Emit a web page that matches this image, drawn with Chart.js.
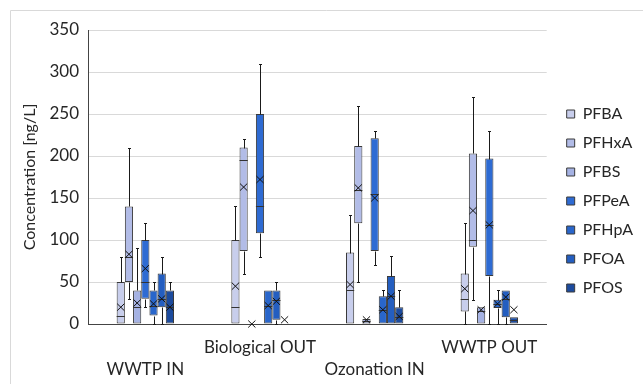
<!DOCTYPE html>
<html>
<head>
<meta charset="utf-8">
<script src="https://cdn.jsdelivr.net/npm/chart.js@4.4.1/dist/chart.umd.min.js"></script>
<style>
  body { margin: 0; background: #fff; }
</style>
</head>
<body>
<canvas id="mycanvas" width="643" height="384"></canvas>
<script>
// sampling points
var categories = ['WWTP IN', 'Biological OUT', 'Ozonation IN', 'WWTP OUT'];
var yTicks = [0, 50, 100, 150, 200, 250, 300, 350];

// per compound, per sampling point: [min, q1, median, q3, max, mean] in ng/L
var PFBA  = [[0, 0, 10, 50, 80, 20], [0, 0, 20, 100, 140, 45], [0, 0, 40, 85, 130, 47], [0, 15, 30, 60, 120, 42]];
var PFHxA = [[30, 50, 80, 140, 210, 83], [60, 87, 195, 210, 220, 163], [50, 120, 160, 212, 260, 162], [29, 92, 100, 203, 270, 135]];
var PFBS  = [[0, 0, 20, 40, 90, 25], [0, 0, 0, 0, 0, 0], [0, 0, 3, 6, 6, 5], [0, 0, 15, 20, 20, 17]];
var PFPeA = [[20, 30, 50, 100, 120, 66], [80, 108, 140, 250, 310, 172], [70, 87, 155, 221, 230, 150], [0, 57, 118, 197, 230, 118]];
var PFHpA = [[0, 10, 22, 40, 50, 24], [0, 0, 22, 40, 40, 22], [0, 0, 17, 33, 40, 17], [0, 19, 24, 29, 40, 24]];
var PFOA  = [[0, 20, 30, 60, 80, 30], [0, 5, 28, 40, 50, 27], [0, 0, 33, 57, 81, 33], [0, 8, 30, 40, 40, 32]];
var PFOS  = [[0, 0, 20, 40, 50, 20], [0, 0, 0, 0, 0, 5], [0, 0, 8, 20, 40, 9], [0, 0, 5, 8, 8, 17]];

var seriesNames = ['PFBA', 'PFHxA', 'PFBS', 'PFPeA', 'PFHpA', 'PFOA', 'PFOS'];
var seriesStats = [PFBA, PFHxA, PFBS, PFPeA, PFHpA, PFOA, PFOS];
var seriesColors = ['#c8ceec', '#b2bce7', '#a5b2e3', '#2e6bd3', '#2966cb', '#245ec0', '#1c4b9e'];

var FONT = "Lato, 'Open Sans', sans-serif";

// whiskers, median line and mean cross on top of the floating bars
var boxParts = {
  id: 'boxParts',
  afterDatasetsDraw: function(chart) {
    var ctx = chart.ctx, y = chart.scales.y;
    ctx.save();
    ctx.lineWidth = 1;
    chart.data.datasets.forEach(function(ds, i) {
      var meta = chart.getDatasetMeta(i);
      meta.data.forEach(function(bar, j) {
        var s = ds.stats[j];
        var x = Math.round(bar.x) + 0.5, hw = bar.width / 2;
        var py = function(v) { return Math.round(y.getPixelForValue(v)) + 0.5; };
        ctx.strokeStyle = '#1a1a1a';
        ctx.beginPath();
        if (s[4] > s[3]) {
          ctx.moveTo(x, py(s[3])); ctx.lineTo(x, py(s[4]));
          ctx.moveTo(x - 1.5, py(s[4])); ctx.lineTo(x + 1.5, py(s[4]));
        }
        if (s[0] < s[1]) {
          ctx.moveTo(x, py(s[1])); ctx.lineTo(x, py(s[0]));
          ctx.moveTo(x - 1.5, py(s[0])); ctx.lineTo(x + 1.5, py(s[0]));
        }
        ctx.stroke();
        if (s[3] > s[1]) {
          ctx.strokeStyle = '#333';
          ctx.beginPath();
          ctx.moveTo(bar.x - hw, py(s[2])); ctx.lineTo(bar.x + hw, py(s[2]));
          ctx.stroke();
        }
        var ym = y.getPixelForValue(s[5]), dx = hw - 0.5, dy = 3.5;
        ctx.strokeStyle = '#111';
        ctx.beginPath();
        ctx.moveTo(bar.x - dx, ym - dy); ctx.lineTo(bar.x + dx, ym + dy);
        ctx.moveTo(bar.x - dx, ym + dy); ctx.lineTo(bar.x + dx, ym - dy);
        ctx.stroke();
      });
    });
    ctx.restore();
  }
};

// light chart frame like the spreadsheet one; legend sits a bit higher than centred
var frame = {
  id: 'frame',
  afterLayout: function(chart) {
    chart.legend.top -= 6;
    chart.legend.bottom -= 6;
  },
  beforeDraw: function(chart) {
    var ctx = chart.ctx;
    ctx.save();
    ctx.strokeStyle = '#d9d9d9';
    ctx.lineWidth = 1;
    ctx.beginPath();
    ctx.moveTo(10.5, 384); ctx.lineTo(10.5, 10.5); ctx.lineTo(643, 10.5);
    ctx.stroke();
    ctx.restore();
  }
};

var datasets = seriesNames.map(function(name, i) {
  return {
    label: name,
    stats: seriesStats[i],
    data: seriesStats[i].map(function(s) { return [s[1], s[3]]; }),
    backgroundColor: seriesColors[i],
    borderColor: '#3a3a3a',
    borderWidth: 1,
    borderSkipped: false,
    categoryPercentage: 0.5,
    barPercentage: 1.0
  };
});

var ctx = document.getElementById('mycanvas').getContext('2d');
var myBoxChart = new Chart(ctx, {
  type: 'bar',
  data: {
    labels: categories.map(function(c, i) { return i % 2 ? [c, ''] : ['', c]; }),
    datasets: datasets
  },
  options: {
    responsive: false,
    animation: false,
    layout: { padding: { top: 30, left: 10, right: 0, bottom: 0 } },
    plugins: {
      tooltip: { enabled: false },
      legend: {
        position: 'right',
        maxWidth: 91,
        labels: {
          boxWidth: 8,
          boxHeight: 8,
          padding: 13,
          color: '#262626',
          font: { family: FONT, size: 16 }
        }
      }
    },
    scales: {
      x: {
        grid: { display: false },
        border: { color: '#444', width: 1 },
        afterFit: function(scale) { scale.height = 60; },
        ticks: {
          color: '#262626',
          padding: 5,
          maxRotation: 0,
          autoSkip: false,
          font: { family: FONT, size: 17, lineHeight: '22px' }
        }
      },
      y: {
        min: 0,
        max: 350,
        afterBuildTicks: function(scale) {
          scale.ticks = yTicks.map(function(v) { return { value: v }; });
        },
        afterFit: function(scale) { scale.width = 78; },
        grid: { color: '#d9d9d9', drawTicks: false },
        border: { color: '#444', width: 1 },
        ticks: {
          color: '#262626',
          padding: 9,
          font: { family: FONT, size: 17 }
        },
        title: {
          display: true,
          text: 'Concentration [ng/L]',
          color: '#262626',
          padding: { top: 10, bottom: 0 },
          font: { family: FONT, size: 16 }
        }
      },
      y2: {
        position: 'right',
        grid: { display: false, drawTicks: false },
        border: { display: false },
        ticks: { display: false },
        afterFit: function(scale) { scale.width = 7; }
      }
    }
  },
  plugins: [boxParts, frame]
});
</script>
</body>
</html>
